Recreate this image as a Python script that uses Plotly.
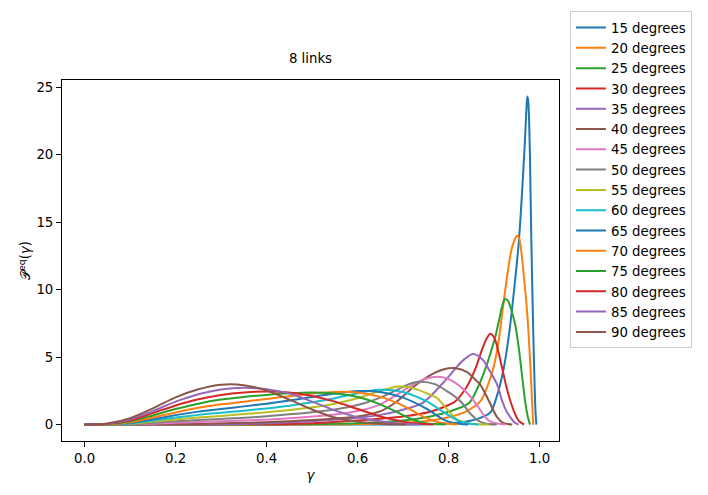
import plotly.graph_objects as go

# ---- data (gamma, P^eq(gamma)) ----
gamma_15 = [0.0, 0.5, 0.7, 0.8, 0.85, 0.87, 0.892, 0.907, 0.922, 0.934, 0.945, 0.955, 0.962, 0.967, 0.971, 0.973, 0.975, 0.977, 0.979, 0.982, 0.986, 0.989, 0.991, 0.993]
pdf_15 = [0, 0, 0.01, 0.08, 0.3, 0.5, 0.9, 2.2, 4.3, 7.0, 10.3, 13.8, 17.5, 20.5, 23.3, 24.3, 24.0, 22.5, 19.6, 13.5, 7.0, 3.0, 1.0, 0]

gamma_20 = [0.0, 0.5, 0.7, 0.76, 0.8, 0.84, 0.87, 0.885, 0.9, 0.91, 0.92, 0.93, 0.94, 0.951, 0.955, 0.96, 0.966, 0.971, 0.975, 0.979, 0.982, 0.984, 0.986]
pdf_20 = [0, 0.01, 0.12, 0.3, 0.55, 1.0, 1.73, 2.8, 4.4, 6.2, 8.8, 11.3, 13.2, 14.0, 13.8, 12.8, 10.8, 9.0, 7.2, 4.8, 2.8, 1.4, 0]

gamma_25 = [0.0, 0.4, 0.6, 0.7, 0.76, 0.8, 0.845, 0.865, 0.881, 0.893, 0.903, 0.912, 0.918, 0.924, 0.93, 0.935, 0.942, 0.947, 0.955, 0.962, 0.968, 0.974, 0.979]
pdf_25 = [0, 0.01, 0.1, 0.3, 0.6, 0.95, 1.6, 2.8, 4.14, 5.4, 6.55, 7.9, 8.8, 9.3, 9.2, 8.8, 8.0, 7.3, 5.5, 3.5, 1.8, 0.6, 0]

gamma_30 = [0.0, 0.4, 0.5, 0.6, 0.7, 0.76, 0.8, 0.815, 0.84, 0.859, 0.874, 0.884, 0.892, 0.9, 0.905, 0.918, 0.927, 0.936, 0.946, 0.955, 0.966]
pdf_30 = [0, 0.02, 0.1, 0.3, 0.6, 0.95, 1.45, 1.73, 2.8, 4.14, 5.6, 6.4, 6.72, 6.45, 6.0, 4.14, 2.8, 1.73, 0.8, 0.25, 0]

gamma_35 = [0.0, 0.3, 0.4, 0.5, 0.6, 0.65, 0.7, 0.74, 0.76, 0.78, 0.8, 0.82, 0.835, 0.854, 0.875, 0.89, 0.907, 0.918, 0.927, 0.936, 0.945, 0.954]
pdf_35 = [0, 0.02, 0.1, 0.25, 0.5, 0.72, 1.1, 1.55, 2.1, 2.8, 3.55, 4.35, 4.85, 5.22, 4.8, 4.0, 2.94, 1.73, 1.0, 0.53, 0.15, 0]

gamma_40 = [0.0, 0.25, 0.35, 0.45, 0.55, 0.6, 0.651, 0.687, 0.724, 0.76, 0.79, 0.812, 0.84, 0.855, 0.87, 0.889, 0.907, 0.92, 0.94]
pdf_40 = [0, 0.05, 0.13, 0.25, 0.45, 0.6, 1.0, 1.73, 2.82, 3.66, 4.1, 4.19, 3.9, 3.45, 2.94, 1.73, 0.53, 0.12, 0]

gamma_45 = [0.0, 0.15, 0.25, 0.35, 0.45, 0.55, 0.6, 0.65, 0.7, 0.724, 0.75, 0.775, 0.79, 0.81, 0.835, 0.856, 0.87, 0.881, 0.895, 0.924]
pdf_45 = [0, 0.07, 0.2, 0.3, 0.47, 0.75, 1.0, 1.5, 2.5, 3.0, 3.4, 3.54, 3.48, 3.2, 2.55, 1.73, 1.05, 0.53, 0.18, 0]

gamma_50 = [0.0, 0.1, 0.15, 0.2, 0.25, 0.3, 0.35, 0.4, 0.45, 0.5, 0.55, 0.6, 0.65, 0.7, 0.72, 0.738, 0.77, 0.8, 0.826, 0.848, 0.865, 0.88, 0.906]
pdf_50 = [0, 0.03, 0.13, 0.24, 0.34, 0.42, 0.5, 0.62, 0.76, 0.92, 1.12, 1.45, 2.0, 2.8, 3.08, 3.18, 3.0, 2.4, 1.73, 0.8, 0.3, 0.08, 0]

gamma_55 = [0.0, 0.1, 0.15, 0.2, 0.25, 0.3, 0.35, 0.4, 0.45, 0.5, 0.55, 0.6, 0.65, 0.69, 0.72, 0.75, 0.775, 0.79, 0.804, 0.82, 0.85, 0.889]
pdf_55 = [0, 0.06, 0.22, 0.38, 0.52, 0.64, 0.78, 0.92, 1.08, 1.28, 1.55, 1.95, 2.5, 2.82, 2.72, 2.35, 1.95, 1.4, 0.85, 0.35, 0.06, 0]

gamma_60 = [0.0, 0.1, 0.15, 0.2, 0.25, 0.3, 0.35, 0.4, 0.45, 0.5, 0.55, 0.6, 0.645, 0.7, 0.75, 0.79, 0.82, 0.84, 0.866]
pdf_60 = [0, 0.09, 0.3, 0.52, 0.72, 0.88, 1.03, 1.2, 1.4, 1.65, 1.95, 2.32, 2.58, 2.42, 1.75, 0.9, 0.3, 0.1, 0]

gamma_65 = [0.0, 0.05, 0.1, 0.15, 0.2, 0.25, 0.3, 0.35, 0.4, 0.45, 0.5, 0.55, 0.6, 0.65, 0.7, 0.75, 0.79, 0.81, 0.843]
pdf_65 = [0, 0.02, 0.13, 0.4, 0.7, 0.96, 1.16, 1.35, 1.55, 1.78, 2.05, 2.3, 2.48, 2.42, 2.0, 1.2, 0.35, 0.12, 0]

gamma_70 = [0.0, 0.05, 0.1, 0.15, 0.2, 0.25, 0.3, 0.35, 0.4, 0.45, 0.5, 0.55, 0.6, 0.65, 0.7, 0.75, 0.78, 0.819]
pdf_70 = [0, 0.03, 0.18, 0.52, 0.9, 1.24, 1.5, 1.7, 1.9, 2.1, 2.3, 2.42, 2.38, 2.05, 1.4, 0.5, 0.15, 0]

gamma_75 = [0.0, 0.05, 0.1, 0.15, 0.2, 0.25, 0.3, 0.35, 0.4, 0.45, 0.5, 0.55, 0.6, 0.65, 0.7, 0.72, 0.75, 0.793]
pdf_75 = [0, 0.04, 0.25, 0.68, 1.15, 1.55, 1.85, 2.05, 2.2, 2.32, 2.38, 2.3, 2.05, 1.5, 0.7, 0.38, 0.1, 0]

gamma_80 = [0.0, 0.05, 0.1, 0.15, 0.2, 0.25, 0.3, 0.35, 0.4, 0.45, 0.5, 0.55, 0.6, 0.65, 0.7, 0.73, 0.766]
pdf_80 = [0, 0.05, 0.32, 0.85, 1.42, 1.88, 2.2, 2.38, 2.45, 2.38, 2.12, 1.7, 1.15, 0.6, 0.22, 0.08, 0]

gamma_85 = [0.0, 0.05, 0.1, 0.15, 0.2, 0.25, 0.3, 0.35, 0.4, 0.45, 0.5, 0.55, 0.6, 0.65, 0.7, 0.737]
pdf_85 = [0, 0.06, 0.4, 1.0, 1.7, 2.25, 2.6, 2.72, 2.62, 2.3, 1.7, 1.05, 0.55, 0.25, 0.06, 0]

gamma_90 = [0.0, 0.05, 0.1, 0.15, 0.2, 0.25, 0.3, 0.35, 0.4, 0.45, 0.5, 0.55, 0.6, 0.65, 0.707]
pdf_90 = [0, 0.08, 0.48, 1.2, 2.02, 2.62, 2.96, 2.92, 2.52, 1.85, 1.12, 0.52, 0.22, 0.06, 0]

angle_labels = ["15 degrees", "20 degrees", "25 degrees", "30 degrees", "35 degrees", "40 degrees",
                "45 degrees", "50 degrees", "55 degrees", "60 degrees", "65 degrees", "70 degrees",
                "75 degrees", "80 degrees", "85 degrees", "90 degrees"]
x_tick_vals = [0.0, 0.2, 0.4, 0.6, 0.8, 1.0]
x_tick_text = ["0.0", "0.2", "0.4", "0.6", "0.8", "1.0"]
y_tick_vals = [0, 5, 10, 15, 20, 25]

series = [
    (gamma_15, pdf_15), (gamma_20, pdf_20), (gamma_25, pdf_25), (gamma_30, pdf_30),
    (gamma_35, pdf_35), (gamma_40, pdf_40), (gamma_45, pdf_45), (gamma_50, pdf_50),
    (gamma_55, pdf_55), (gamma_60, pdf_60), (gamma_65, pdf_65), (gamma_70, pdf_70),
    (gamma_75, pdf_75), (gamma_80, pdf_80), (gamma_85, pdf_85), (gamma_90, pdf_90),
]

tab10 = ["#1f77b4", "#ff7f0e", "#2ca02c", "#d62728", "#9467bd",
         "#8c564b", "#e377c2", "#7f7f7f", "#bcbd22", "#17becf"]

FONT = "DejaVu Sans"
FS = 13.3

fig = go.Figure()
for i, ((gx, gy), name) in enumerate(zip(series, angle_labels)):
    fig.add_trace(go.Scatter(
        x=gx, y=gy, mode="lines", name=name,
        line=dict(color=tab10[i % 10], width=2, shape="spline", smoothing=0.8),
    ))

fig.update_layout(
    width=708, height=495,
    margin=dict(l=62, r=149, t=72, b=54),
    paper_bgcolor="white", plot_bgcolor="white",
    font=dict(family=FONT, size=FS, color="black"),
    title=dict(text="8 links", x=(62 + 559) / 2 / 708, xref="container", xanchor="center",
               y=1 - 58 / 495, yref="container", yanchor="middle",
               font=dict(family=FONT, size=FS, color="black")),
    showlegend=True,
    legend=dict(x=1.022, xanchor="left", y=1.19, yanchor="top",
                bgcolor="white", bordercolor="#cccccc", borderwidth=1,
                font=dict(family=FONT, size=FS, color="black"),
                tracegroupgap=0, maxheight=480),
)

fig.update_xaxes(
    range=[-0.0497, 1.0427], tickmode="array", tickvals=x_tick_vals, ticktext=x_tick_text,
    showgrid=False, zeroline=False, showline=True, linecolor="black", linewidth=1,
    mirror=True, ticks="outside", ticklen=5, tickcolor="black", tickwidth=1,
    title=dict(text="<i>γ</i>", standoff=5, font=dict(family=FONT, size=FS)),
)
fig.update_yaxes(
    range=[-1.215, 25.52], tickmode="array", tickvals=y_tick_vals,
    showgrid=False, zeroline=False, showline=True, linecolor="black", linewidth=1,
    mirror=True, ticks="outside", ticklen=5, tickcolor="black", tickwidth=1,
    title=dict(text="𝒫<sup>eq</sup>(<i>γ</i>)", standoff=2, font=dict(family=FONT, size=FS)),
)

fig.write_html("out.html")
